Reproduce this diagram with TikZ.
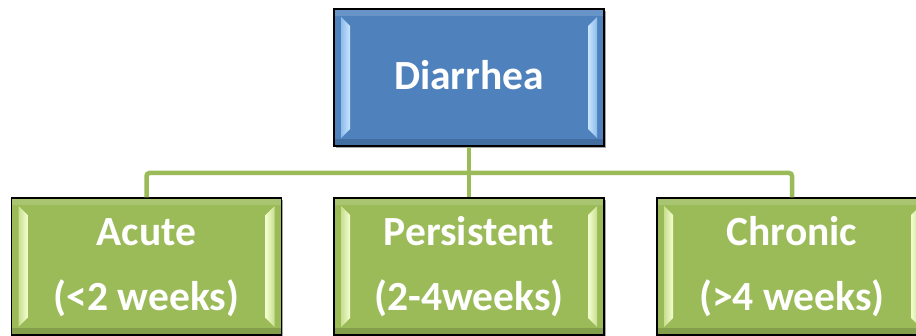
\documentclass[tikz,border=0pt]{standalone}
\usepackage{fontspec}
\setmainfont{Carlito}
\usetikzlibrary{calc,shadows}
\definecolor{boxblue}{HTML}{4F81BD}
\definecolor{boxgreen}{HTML}{9BBB59}
\definecolor{bluehi}{HTML}{C9E6FF}
\definecolor{bluelo}{HTML}{8DBBEA}
\definecolor{greenhi}{HTML}{F4FFD0}
\definecolor{greenlo}{HTML}{C8DE90}
\definecolor{linkgreen}{HTML}{9BBB59}
\begin{document}
\begin{tikzpicture}[x=1pt,y=-1pt,
  bevelbox/.style n args={3}{draw=black, line width=1.3pt, fill=#1,
    minimum width=270pt, minimum height=137pt, inner sep=0pt,
    drop shadow={shadow xshift=1.5pt, shadow yshift=-2.5pt, opacity=0.35, fill=black},
    path picture={
      \coordinate (pA) at (path picture bounding box.north west);
      \coordinate (pB) at (path picture bounding box.south east);
      \fill[#1!85!white] (pA) rectangle ($(pB|-pA)+(0pt,-7pt)$);
      \fill[#1!85!black] ($(pA|-pB)+(0pt,7pt)$) rectangle (pB);
      \shade[left color=#3, right color=#2]
        ($(pA)+(7pt,-8pt)$) -- ($(pA)+(16pt,-17pt)$) --
        ($(pA|-pB)+(16pt,17pt)$) -- ($(pA|-pB)+(7pt,8pt)$) -- cycle;
      \shade[left color=#2, right color=#3]
        ($(pB|-pA)+(-7pt,-8pt)$) -- ($(pB|-pA)+(-16pt,-17pt)$) --
        ($(pB)+(-16pt,17pt)$) -- ($(pB)+(-7pt,8pt)$) -- cycle;
    }},
  bluebox/.style={bevelbox={boxblue}{bluehi}{bluelo}},
  greenbox/.style={bevelbox={boxgreen}{greenhi}{greenlo}},
  lbl/.style={text=white, anchor=base, inner sep=0pt,
    font=\fontsize{41.5}{50}\selectfont\bfseries},
  link/.style={draw=linkgreen, line width=4.5pt, rounded corners=3pt}]
\useasboundingbox (0,0) rectangle (916,336);
\fill[white] (0,0) rectangle (916,336);
\node[bluebox] (top) at (469,77.5) {};
\node[greenbox] (acute) at (146.5,266.5) {};
\node[greenbox] (pers) at (469,266.5) {};
\node[greenbox] (chron) at (792,266.5) {};
\node[lbl] (topt) at ($(top.center)+(0pt,-12.5pt)$) {Diarrhea};
\node[lbl] (acutea) at ($(acute.center)+(0pt,20.5pt)$) {Acute};
\node[lbl] (acuteb) at ($(acute.center)+(0pt,-44pt)$) {(<2 weeks)};
\node[lbl] (persa) at ($(pers.center)+(0pt,20.5pt)$) {Persistent};
\node[lbl] (persb) at ($(pers.center)+(0pt,-44pt)$) {(2-4weeks)};
\node[lbl] (chrona) at ($(chron.center)+(0pt,20.5pt)$) {Chronic};
\node[lbl] (chronb) at ($(chron.center)+(0pt,-44pt)$) {(>4 weeks)};
\coordinate (bar) at (469,173);
\draw[link] (top.south) -- (bar);
\draw[link] (acute.north) |- (bar) -| (chron.north);
\draw[link] (bar) -- (pers.north);
\end{tikzpicture}
\end{document}
